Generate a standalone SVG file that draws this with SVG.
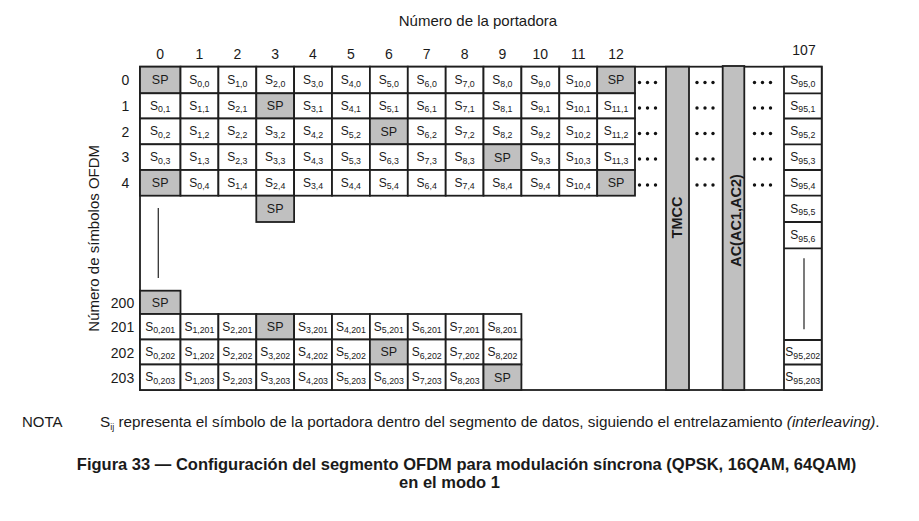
<svg xmlns="http://www.w3.org/2000/svg" width="919" height="521" viewBox="0 0 919 521">
<style>
text{font-family:"Liberation Sans",Arial,sans-serif;fill:#1a1a1a}
.c{fill:#fff;stroke:#1e1e1e;stroke-width:1.8}
.g{fill:#c0c0c0;stroke:#1e1e1e;stroke-width:1.8}
.t{font-size:12px;text-anchor:middle}
.sp{font-size:12.5px;text-anchor:middle}
.sub{font-size:8.8px}
.num{font-size:14px;text-anchor:middle}
.ln{stroke:#1e1e1e;stroke-width:1.8;fill:none}
.thin{stroke:#333;stroke-width:1.3}
.vt{font-size:14.5px;font-weight:bold;text-anchor:middle}
</style>
<defs>
<g id="dots"><circle cx="-8" cy="0" r="1.7" fill="#111"/><circle cx="0" cy="0" r="1.7" fill="#111"/><circle cx="8" cy="0" r="1.7" fill="#111"/></g>
</defs>
<rect width="919" height="521" fill="#fff"/>
<text x="478" y="26" style="font-size:15px;text-anchor:middle">Número de la portadora</text>
<text transform="translate(99,238.3) rotate(-90)" style="font-size:15px;text-anchor:middle">Número de símbolos OFDM</text>
<g id="col-labels" class="num">
<text class="num" x="160.2" y="59">0</text><text class="num" x="199.4" y="59">1</text><text class="num" x="237.3" y="59">2</text><text class="num" x="275.2" y="59">3</text><text class="num" x="313" y="59">4</text><text class="num" x="350.9" y="59">5</text><text class="num" x="388.8" y="59">6</text><text class="num" x="426.7" y="59">7</text><text class="num" x="464.6" y="59">8</text><text class="num" x="502.4" y="59">9</text><text class="num" x="540.3" y="59">10</text><text class="num" x="578.2" y="59">11</text><text class="num" x="616.1" y="59">12</text><text class="num" x="804" y="55">107</text>
</g>
<g id="row-labels">
<text class="num" x="125.5" y="85">0</text><text class="num" x="125.5" y="111">1</text><text class="num" x="125.5" y="136.5">2</text><text class="num" x="125.5" y="162">3</text><text class="num" x="125.5" y="188">4</text>
<text class="num" x="122.5" y="307.5">200</text><text class="num" x="122.5" y="332">201</text><text class="num" x="122.5" y="357.5">202</text><text class="num" x="122.5" y="382.5">203</text>
</g>
<g id="frame"><rect class="ln" x="140" y="66.7" width="681.7" height="323.3"/></g>
<g id="row0">
<rect class="g" x="140" y="66.7" width="40.5" height="26.6"/><text class="sp" x="160.2" y="84.3">SP</text>
<rect class="c" x="180.5" y="66.7" width="37.9" height="26.6"/><text class="t" x="199.4" y="84">S<tspan class="sub" dy="2.5">0,0</tspan></text>
<rect class="c" x="218.4" y="66.7" width="37.9" height="26.6"/><text class="t" x="237.3" y="84">S<tspan class="sub" dy="2.5">1,0</tspan></text>
<rect class="c" x="256.3" y="66.7" width="37.8" height="26.6"/><text class="t" x="275.2" y="84">S<tspan class="sub" dy="2.5">2,0</tspan></text>
<rect class="c" x="294.1" y="66.7" width="37.9" height="26.6"/><text class="t" x="313" y="84">S<tspan class="sub" dy="2.5">3,0</tspan></text>
<rect class="c" x="332" y="66.7" width="37.9" height="26.6"/><text class="t" x="350.9" y="84">S<tspan class="sub" dy="2.5">4,0</tspan></text>
<rect class="c" x="369.9" y="66.7" width="37.9" height="26.6"/><text class="t" x="388.8" y="84">S<tspan class="sub" dy="2.5">5,0</tspan></text>
<rect class="c" x="407.8" y="66.7" width="37.9" height="26.6"/><text class="t" x="426.7" y="84">S<tspan class="sub" dy="2.5">6,0</tspan></text>
<rect class="c" x="445.7" y="66.7" width="37.8" height="26.6"/><text class="t" x="464.6" y="84">S<tspan class="sub" dy="2.5">7,0</tspan></text>
<rect class="c" x="483.5" y="66.7" width="37.9" height="26.6"/><text class="t" x="502.4" y="84">S<tspan class="sub" dy="2.5">8,0</tspan></text>
<rect class="c" x="521.4" y="66.7" width="37.9" height="26.6"/><text class="t" x="540.3" y="84">S<tspan class="sub" dy="2.5">9,0</tspan></text>
<rect class="c" x="559.3" y="66.7" width="37.9" height="26.6"/><text class="t" x="578.2" y="84">S<tspan class="sub" dy="2.5">10,0</tspan></text>
<rect class="g" x="597.2" y="66.7" width="37.8" height="26.6"/><text class="sp" x="616.1" y="84.3">SP</text>
</g>
<g id="row1">
<rect class="c" x="140" y="93.3" width="40.5" height="25.2"/><text class="t" x="160.2" y="109.9">S<tspan class="sub" dy="2.5">0,1</tspan></text>
<rect class="c" x="180.5" y="93.3" width="37.9" height="25.2"/><text class="t" x="199.4" y="109.9">S<tspan class="sub" dy="2.5">1,1</tspan></text>
<rect class="c" x="218.4" y="93.3" width="37.9" height="25.2"/><text class="t" x="237.3" y="109.9">S<tspan class="sub" dy="2.5">2,1</tspan></text>
<rect class="g" x="256.3" y="93.3" width="37.8" height="25.2"/><text class="sp" x="275.2" y="110.2">SP</text>
<rect class="c" x="294.1" y="93.3" width="37.9" height="25.2"/><text class="t" x="313" y="109.9">S<tspan class="sub" dy="2.5">3,1</tspan></text>
<rect class="c" x="332" y="93.3" width="37.9" height="25.2"/><text class="t" x="350.9" y="109.9">S<tspan class="sub" dy="2.5">4,1</tspan></text>
<rect class="c" x="369.9" y="93.3" width="37.9" height="25.2"/><text class="t" x="388.8" y="109.9">S<tspan class="sub" dy="2.5">5,1</tspan></text>
<rect class="c" x="407.8" y="93.3" width="37.9" height="25.2"/><text class="t" x="426.7" y="109.9">S<tspan class="sub" dy="2.5">6,1</tspan></text>
<rect class="c" x="445.7" y="93.3" width="37.8" height="25.2"/><text class="t" x="464.6" y="109.9">S<tspan class="sub" dy="2.5">7,1</tspan></text>
<rect class="c" x="483.5" y="93.3" width="37.9" height="25.2"/><text class="t" x="502.4" y="109.9">S<tspan class="sub" dy="2.5">8,1</tspan></text>
<rect class="c" x="521.4" y="93.3" width="37.9" height="25.2"/><text class="t" x="540.3" y="109.9">S<tspan class="sub" dy="2.5">9,1</tspan></text>
<rect class="c" x="559.3" y="93.3" width="37.9" height="25.2"/><text class="t" x="578.2" y="109.9">S<tspan class="sub" dy="2.5">10,1</tspan></text>
<rect class="c" x="597.2" y="93.3" width="37.8" height="25.2"/><text class="t" x="616.1" y="109.9">S<tspan class="sub" dy="2.5">11,1</tspan></text>
</g>
<g id="row2">
<rect class="c" x="140" y="118.5" width="40.5" height="25.8"/><text class="t" x="160.2" y="135.4">S<tspan class="sub" dy="2.5">0,2</tspan></text>
<rect class="c" x="180.5" y="118.5" width="37.9" height="25.8"/><text class="t" x="199.4" y="135.4">S<tspan class="sub" dy="2.5">1,2</tspan></text>
<rect class="c" x="218.4" y="118.5" width="37.9" height="25.8"/><text class="t" x="237.3" y="135.4">S<tspan class="sub" dy="2.5">2,2</tspan></text>
<rect class="c" x="256.3" y="118.5" width="37.8" height="25.8"/><text class="t" x="275.2" y="135.4">S<tspan class="sub" dy="2.5">3,2</tspan></text>
<rect class="c" x="294.1" y="118.5" width="37.9" height="25.8"/><text class="t" x="313" y="135.4">S<tspan class="sub" dy="2.5">4,2</tspan></text>
<rect class="c" x="332" y="118.5" width="37.9" height="25.8"/><text class="t" x="350.9" y="135.4">S<tspan class="sub" dy="2.5">5,2</tspan></text>
<rect class="g" x="369.9" y="118.5" width="37.9" height="25.8"/><text class="sp" x="388.8" y="135.7">SP</text>
<rect class="c" x="407.8" y="118.5" width="37.9" height="25.8"/><text class="t" x="426.7" y="135.4">S<tspan class="sub" dy="2.5">6,2</tspan></text>
<rect class="c" x="445.7" y="118.5" width="37.8" height="25.8"/><text class="t" x="464.6" y="135.4">S<tspan class="sub" dy="2.5">7,2</tspan></text>
<rect class="c" x="483.5" y="118.5" width="37.9" height="25.8"/><text class="t" x="502.4" y="135.4">S<tspan class="sub" dy="2.5">8,2</tspan></text>
<rect class="c" x="521.4" y="118.5" width="37.9" height="25.8"/><text class="t" x="540.3" y="135.4">S<tspan class="sub" dy="2.5">9,2</tspan></text>
<rect class="c" x="559.3" y="118.5" width="37.9" height="25.8"/><text class="t" x="578.2" y="135.4">S<tspan class="sub" dy="2.5">10,2</tspan></text>
<rect class="c" x="597.2" y="118.5" width="37.8" height="25.8"/><text class="t" x="616.1" y="135.4">S<tspan class="sub" dy="2.5">11,2</tspan></text>
</g>
<g id="row3">
<rect class="c" x="140" y="144.3" width="40.5" height="25.7"/><text class="t" x="160.2" y="161.2">S<tspan class="sub" dy="2.5">0,3</tspan></text>
<rect class="c" x="180.5" y="144.3" width="37.9" height="25.7"/><text class="t" x="199.4" y="161.2">S<tspan class="sub" dy="2.5">1,3</tspan></text>
<rect class="c" x="218.4" y="144.3" width="37.9" height="25.7"/><text class="t" x="237.3" y="161.2">S<tspan class="sub" dy="2.5">2,3</tspan></text>
<rect class="c" x="256.3" y="144.3" width="37.8" height="25.7"/><text class="t" x="275.2" y="161.2">S<tspan class="sub" dy="2.5">3,3</tspan></text>
<rect class="c" x="294.1" y="144.3" width="37.9" height="25.7"/><text class="t" x="313" y="161.2">S<tspan class="sub" dy="2.5">4,3</tspan></text>
<rect class="c" x="332" y="144.3" width="37.9" height="25.7"/><text class="t" x="350.9" y="161.2">S<tspan class="sub" dy="2.5">5,3</tspan></text>
<rect class="c" x="369.9" y="144.3" width="37.9" height="25.7"/><text class="t" x="388.8" y="161.2">S<tspan class="sub" dy="2.5">6,3</tspan></text>
<rect class="c" x="407.8" y="144.3" width="37.9" height="25.7"/><text class="t" x="426.7" y="161.2">S<tspan class="sub" dy="2.5">7,3</tspan></text>
<rect class="c" x="445.7" y="144.3" width="37.8" height="25.7"/><text class="t" x="464.6" y="161.2">S<tspan class="sub" dy="2.5">8,3</tspan></text>
<rect class="g" x="483.5" y="144.3" width="37.9" height="25.7"/><text class="sp" x="502.4" y="161.5">SP</text>
<rect class="c" x="521.4" y="144.3" width="37.9" height="25.7"/><text class="t" x="540.3" y="161.2">S<tspan class="sub" dy="2.5">9,3</tspan></text>
<rect class="c" x="559.3" y="144.3" width="37.9" height="25.7"/><text class="t" x="578.2" y="161.2">S<tspan class="sub" dy="2.5">10,3</tspan></text>
<rect class="c" x="597.2" y="144.3" width="37.8" height="25.7"/><text class="t" x="616.1" y="161.2">S<tspan class="sub" dy="2.5">11,3</tspan></text>
</g>
<g id="row4">
<rect class="g" x="140" y="170" width="40.5" height="25.7"/><text class="sp" x="160.2" y="187.2">SP</text>
<rect class="c" x="180.5" y="170" width="37.9" height="25.7"/><text class="t" x="199.4" y="186.9">S<tspan class="sub" dy="2.5">0,4</tspan></text>
<rect class="c" x="218.4" y="170" width="37.9" height="25.7"/><text class="t" x="237.3" y="186.9">S<tspan class="sub" dy="2.5">1,4</tspan></text>
<rect class="c" x="256.3" y="170" width="37.8" height="25.7"/><text class="t" x="275.2" y="186.9">S<tspan class="sub" dy="2.5">2,4</tspan></text>
<rect class="c" x="294.1" y="170" width="37.9" height="25.7"/><text class="t" x="313" y="186.9">S<tspan class="sub" dy="2.5">3,4</tspan></text>
<rect class="c" x="332" y="170" width="37.9" height="25.7"/><text class="t" x="350.9" y="186.9">S<tspan class="sub" dy="2.5">4,4</tspan></text>
<rect class="c" x="369.9" y="170" width="37.9" height="25.7"/><text class="t" x="388.8" y="186.9">S<tspan class="sub" dy="2.5">5,4</tspan></text>
<rect class="c" x="407.8" y="170" width="37.9" height="25.7"/><text class="t" x="426.7" y="186.9">S<tspan class="sub" dy="2.5">6,4</tspan></text>
<rect class="c" x="445.7" y="170" width="37.8" height="25.7"/><text class="t" x="464.6" y="186.9">S<tspan class="sub" dy="2.5">7,4</tspan></text>
<rect class="c" x="483.5" y="170" width="37.9" height="25.7"/><text class="t" x="502.4" y="186.9">S<tspan class="sub" dy="2.5">8,4</tspan></text>
<rect class="c" x="521.4" y="170" width="37.9" height="25.7"/><text class="t" x="540.3" y="186.9">S<tspan class="sub" dy="2.5">9,4</tspan></text>
<rect class="c" x="559.3" y="170" width="37.9" height="25.7"/><text class="t" x="578.2" y="186.9">S<tspan class="sub" dy="2.5">10,4</tspan></text>
<rect class="g" x="597.2" y="170" width="37.8" height="25.7"/><text class="sp" x="616.1" y="187.2">SP</text>
</g>
<g id="row5">
<rect class="g" x="256.3" y="195.7" width="37.8" height="26.3"/><text class="sp" x="275.2" y="213.2">SP</text>
<line class="thin" x1="158.3" y1="208" x2="158.3" y2="278"/>
</g>
<g id="row200">
<rect class="g" x="140" y="290.7" width="40.5" height="23.3"/><text class="sp" x="160.2" y="306.7">SP</text>
</g>
<g id="row201">
<rect class="c" x="140" y="314" width="40.5" height="25.5"/><text class="t" x="160.2" y="330.8">S<tspan class="sub" dy="2.5">0,201</tspan></text>
<rect class="c" x="180.5" y="314" width="37.9" height="25.5"/><text class="t" x="199.4" y="330.8">S<tspan class="sub" dy="2.5">1,201</tspan></text>
<rect class="c" x="218.4" y="314" width="37.9" height="25.5"/><text class="t" x="237.3" y="330.8">S<tspan class="sub" dy="2.5">2,201</tspan></text>
<rect class="g" x="256.3" y="314" width="37.8" height="25.5"/><text class="sp" x="275.2" y="331.1">SP</text>
<rect class="c" x="294.1" y="314" width="37.9" height="25.5"/><text class="t" x="313" y="330.8">S<tspan class="sub" dy="2.5">3,201</tspan></text>
<rect class="c" x="332" y="314" width="37.9" height="25.5"/><text class="t" x="350.9" y="330.8">S<tspan class="sub" dy="2.5">4,201</tspan></text>
<rect class="c" x="369.9" y="314" width="37.9" height="25.5"/><text class="t" x="388.8" y="330.8">S<tspan class="sub" dy="2.5">5,201</tspan></text>
<rect class="c" x="407.8" y="314" width="37.9" height="25.5"/><text class="t" x="426.7" y="330.8">S<tspan class="sub" dy="2.5">6,201</tspan></text>
<rect class="c" x="445.7" y="314" width="37.8" height="25.5"/><text class="t" x="464.6" y="330.8">S<tspan class="sub" dy="2.5">7,201</tspan></text>
<rect class="c" x="483.5" y="314" width="37.9" height="25.5"/><text class="t" x="502.4" y="330.8">S<tspan class="sub" dy="2.5">8,201</tspan></text>
</g>
<g id="row202">
<rect class="c" x="140" y="339.5" width="40.5" height="25"/><text class="t" x="160.2" y="356">S<tspan class="sub" dy="2.5">0,202</tspan></text>
<rect class="c" x="180.5" y="339.5" width="37.9" height="25"/><text class="t" x="199.4" y="356">S<tspan class="sub" dy="2.5">1,202</tspan></text>
<rect class="c" x="218.4" y="339.5" width="37.9" height="25"/><text class="t" x="237.3" y="356">S<tspan class="sub" dy="2.5">2,202</tspan></text>
<rect class="c" x="256.3" y="339.5" width="37.8" height="25"/><text class="t" x="275.2" y="356">S<tspan class="sub" dy="2.5">3,202</tspan></text>
<rect class="c" x="294.1" y="339.5" width="37.9" height="25"/><text class="t" x="313" y="356">S<tspan class="sub" dy="2.5">4,202</tspan></text>
<rect class="c" x="332" y="339.5" width="37.9" height="25"/><text class="t" x="350.9" y="356">S<tspan class="sub" dy="2.5">5,202</tspan></text>
<rect class="g" x="369.9" y="339.5" width="37.9" height="25"/><text class="sp" x="388.8" y="356.3">SP</text>
<rect class="c" x="407.8" y="339.5" width="37.9" height="25"/><text class="t" x="426.7" y="356">S<tspan class="sub" dy="2.5">6,202</tspan></text>
<rect class="c" x="445.7" y="339.5" width="37.8" height="25"/><text class="t" x="464.6" y="356">S<tspan class="sub" dy="2.5">7,202</tspan></text>
<rect class="c" x="483.5" y="339.5" width="37.9" height="25"/><text class="t" x="502.4" y="356">S<tspan class="sub" dy="2.5">8,202</tspan></text>
</g>
<g id="row203">
<rect class="c" x="140" y="364.5" width="40.5" height="25.5"/><text class="t" x="160.2" y="381.3">S<tspan class="sub" dy="2.5">0,203</tspan></text>
<rect class="c" x="180.5" y="364.5" width="37.9" height="25.5"/><text class="t" x="199.4" y="381.3">S<tspan class="sub" dy="2.5">1,203</tspan></text>
<rect class="c" x="218.4" y="364.5" width="37.9" height="25.5"/><text class="t" x="237.3" y="381.3">S<tspan class="sub" dy="2.5">2,203</tspan></text>
<rect class="c" x="256.3" y="364.5" width="37.8" height="25.5"/><text class="t" x="275.2" y="381.3">S<tspan class="sub" dy="2.5">3,203</tspan></text>
<rect class="c" x="294.1" y="364.5" width="37.9" height="25.5"/><text class="t" x="313" y="381.3">S<tspan class="sub" dy="2.5">4,203</tspan></text>
<rect class="c" x="332" y="364.5" width="37.9" height="25.5"/><text class="t" x="350.9" y="381.3">S<tspan class="sub" dy="2.5">5,203</tspan></text>
<rect class="c" x="369.9" y="364.5" width="37.9" height="25.5"/><text class="t" x="388.8" y="381.3">S<tspan class="sub" dy="2.5">6,203</tspan></text>
<rect class="c" x="407.8" y="364.5" width="37.9" height="25.5"/><text class="t" x="426.7" y="381.3">S<tspan class="sub" dy="2.5">7,203</tspan></text>
<rect class="c" x="445.7" y="364.5" width="37.8" height="25.5"/><text class="t" x="464.6" y="381.3">S<tspan class="sub" dy="2.5">8,203</tspan></text>
<rect class="g" x="483.5" y="364.5" width="37.9" height="25.5"/><text class="sp" x="502.4" y="381.6">SP</text>
</g>
<g id="dots-columns">
<use href="#dots" x="647.5" y="82.5"/><use href="#dots" x="647.5" y="108"/><use href="#dots" x="647.5" y="133.5"/><use href="#dots" x="647.5" y="159"/><use href="#dots" x="647.5" y="185"/>
<use href="#dots" x="705" y="82.5"/><use href="#dots" x="705" y="108"/><use href="#dots" x="705" y="133.5"/><use href="#dots" x="705" y="159"/><use href="#dots" x="705" y="185"/>
<use href="#dots" x="762.5" y="82.5"/><use href="#dots" x="762.5" y="108"/><use href="#dots" x="762.5" y="133.5"/><use href="#dots" x="762.5" y="159"/><use href="#dots" x="762.5" y="185"/>
</g>
<g id="tmcc">
<rect class="g" x="666" y="66.7" width="23" height="323.3"/>
<text class="vt" transform="translate(682,217.5) rotate(-90)">TMCC</text>
</g>
<g id="ac">
<rect class="g" x="722.7" y="66" width="21.6" height="324"/>
<text class="vt" transform="translate(741,220.5) rotate(-90)">AC(AC1,AC2)</text>
</g>
<g id="col107">
<rect class="c" x="784" y="66.7" width="37.7" height="323.3"/>
<path class="ln" d="M784 93.3H821.7M784 118.5H821.7M784 144.3H821.7M784 170H821.7M784 195.7H821.7M784 222H821.7M784 248.3H821.7M784 340H821.7M784 364.5H821.7"/>
<text class="t" x="802.8" y="84">S<tspan class="sub" dy="2.5">95,0</tspan></text>
<text class="t" x="802.8" y="109.9">S<tspan class="sub" dy="2.5">95,1</tspan></text>
<text class="t" x="802.8" y="135.4">S<tspan class="sub" dy="2.5">95,2</tspan></text>
<text class="t" x="802.8" y="161.2">S<tspan class="sub" dy="2.5">95,3</tspan></text>
<text class="t" x="802.8" y="186.9">S<tspan class="sub" dy="2.5">95,4</tspan></text>
<text class="t" x="802.8" y="212.9">S<tspan class="sub" dy="2.5">95,5</tspan></text>
<text class="t" x="802.8" y="239.2">S<tspan class="sub" dy="2.5">95,6</tspan></text>
<line class="thin" x1="804" y1="258.3" x2="804" y2="329.3"/>
<text class="t" x="802.8" y="356.2">S<tspan class="sub" dy="2.5">95,202</tspan></text>
<text class="t" x="802.8" y="381.3">S<tspan class="sub" dy="2.5">95,203</tspan></text>
</g>
<g id="note">
<text x="22" y="427" style="font-size:15px">NOTA</text>
<text x="100" y="427" style="font-size:15.3px">S<tspan style="font-size:9px" dy="3">ij</tspan><tspan dy="-3"> representa el símbolo de la portadora dentro del segmento de datos, siguiendo el entrelazamiento </tspan><tspan style="font-style:italic">(interleaving)</tspan>.</text>
</g>
<g id="caption">
<text x="466.5" y="470" style="font-size:16.5px;font-weight:bold;text-anchor:middle">Figura 33 — Configuración del segmento OFDM para modulación síncrona (QPSK, 16QAM, 64QAM)</text>
<text x="449.5" y="488" style="font-size:16.5px;font-weight:bold;text-anchor:middle">en el modo 1</text>
</g>
</svg>
